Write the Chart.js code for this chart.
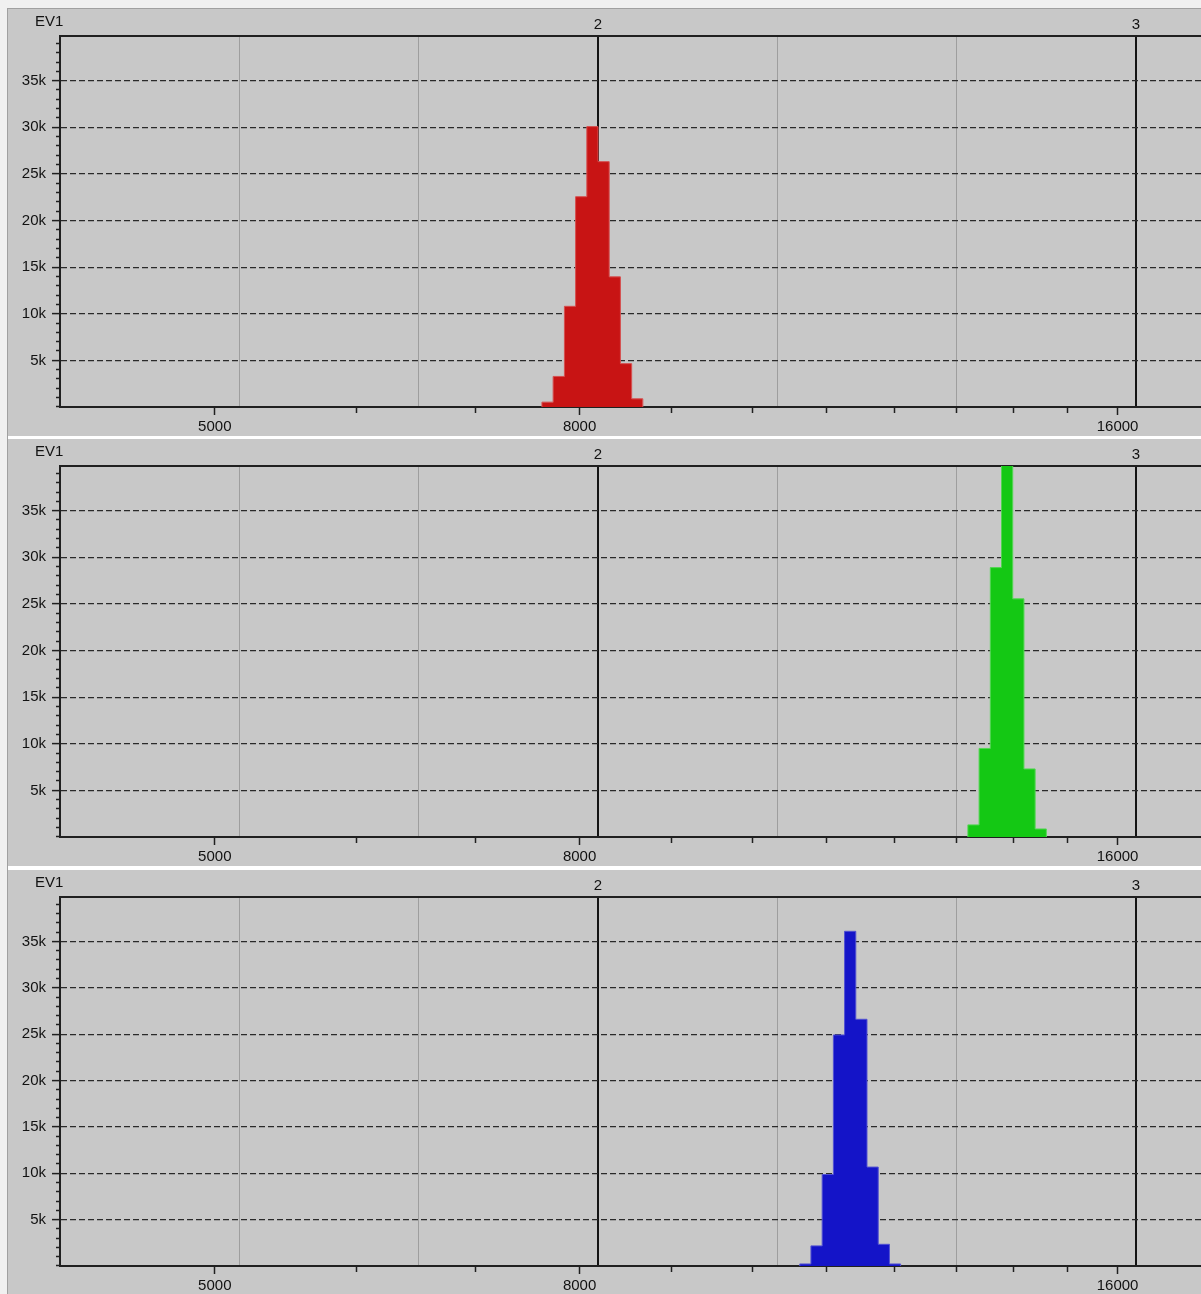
<!DOCTYPE html>
<html>
<head>
<meta charset="utf-8">
<title>EV1</title>
<script src="https://cdn.jsdelivr.net/npm/chart.js@4.4.1/dist/chart.umd.min.js"></script>
<style>
    html, body { margin: 0; padding: 0; background: #f0f0f0; }
    body { width: 1201px; height: 1294px; overflow: hidden; position: relative; }
    #frame {
        position: absolute; left: 7px; top: 8px; width: 1194px; height: 1286px;
        background: #ffffff; border-left: 1px solid #a0a0a0; border-top: 1px solid #a0a0a0;
    }
    .panel { position: absolute; left: 0; width: 1193px; background: #c8c8c8; }
</style>
</head>
<body>
<div id="frame">
    <div class="panel" style="top:0;height:427px"><canvas id="histRed"></canvas></div>
    <div class="panel" style="top:430px;height:427px"><canvas id="histGreen"></canvas></div>
    <div class="panel" style="top:861px;height:425px"><canvas id="histBlue"></canvas></div>
</div>
<script>
// axis text
const axisName = 'EV1';
const xTickValues = [5000, 6000, 7000, 8000, 9000, 10000, 11000, 12000, 13000, 14000, 15000, 16000];
const xLabelValues = [5000, 8000, 16000];
const topTickValues = [1, 4 / 3, 5 / 3, 2, 7 / 3, 8 / 3, 3];
const topTickLabels = ['', '', '', '2', '', '', '3'];
const yLabelValues = [5000, 10000, 15000, 20000, 25000, 30000, 35000];
const yTickLabels = ['5k', '10k', '15k', '20k', '25k', '30k', '35k'];

// histogram bins (edges) and counts
const redEdges = [7621, 7732, 7845, 7959, 8075, 8192, 8311, 8432, 8555, 8679];
const redCounts = [520, 3280, 10800, 22560, 30080, 26320, 13960, 4650, 880];

const greenEdges = [13193, 13385, 13580, 13777, 13978, 14181, 14387, 14597];
const greenCounts = [1300, 9500, 28900, 43000, 25550, 7300, 860];

const blueEdges = [10624, 10778, 10935, 11094, 11255, 11419, 11585, 11754, 11925, 12098];
const blueCounts = [220, 2170, 9870, 24920, 36100, 26610, 10670, 2340, 220];

const fontFamily = '"Liberation Sans", Arial, sans-serif';
const textColor = '#111111';
const axisColor = '#202020';

Chart.defaults.font.family = fontFamily;
Chart.defaults.font.size = 15;
Chart.defaults.color = textColor;

const isWhole = (v) => Math.abs(v - Math.round(v)) < 1e-6;

const axisNamePlugin = {
    id: 'axisName',
    afterDraw(chart) {
        const ctx = chart.ctx;
        ctx.save();
        ctx.font = '15px ' + fontFamily;
        ctx.fillStyle = textColor;
        ctx.textBaseline = 'middle';
        ctx.textAlign = 'left';
        ctx.fillText(axisName, 27, 12.5);
        ctx.restore();
    }
};

const createHistograma = (canvasId, edges, counts, cor, borda) => {
    const pontos = [{ x: edges[0], y: 0 }];
    counts.forEach((c, i) => pontos.push({ x: edges[i], y: c }));
    pontos.push({ x: edges[edges.length - 1], y: 0 });

    const data = {
        datasets: [{
            data: pontos,
            stepped: 'before',
            fill: 'origin',
            backgroundColor: cor,
            borderColor: borda,
            borderWidth: 1,
            pointRadius: 0,
            tension: 0
        }]
    };

    const config = {
        type: 'line',
        data: data,
        plugins: [axisNamePlugin],
        options: {
            responsive: true,
            maintainAspectRatio: false,
            animation: false,
            events: [],
            layout: { padding: 0 },
            scales: {
                x: {
                    type: 'logarithmic',
                    position: 'bottom',
                    min: 4096,
                    max: 17815,
                    afterBuildTicks: (scale) => {
                        scale.ticks = xTickValues.map(v => ({ value: v }));
                    },
                    afterFit: (scale) => { scale.height = 29; },
                    grid: {
                        drawOnChartArea: false,
                        drawTicks: true,
                        tickLength: 8,
                        tickWidth: 1.5,
                        tickColor: axisColor,
                        tickBorderDash: (c) => (c.tick && xLabelValues.includes(c.tick.value)) ? [] : [5, 20]
                    },
                    border: { display: true, color: axisColor, width: 2 },
                    ticks: {
                        autoSkip: false,
                        maxRotation: 0,
                        minRotation: 0,
                        padding: 3,
                        color: textColor,
                        callback: (v) => xLabelValues.includes(v) ? String(v) : ''
                    }
                },
                x2: {
                    type: 'linear',
                    position: 'top',
                    min: 1,
                    max: 3.12082,
                    afterBuildTicks: (scale) => {
                        scale.ticks = topTickValues.map(v => ({ value: v }));
                    },
                    afterFit: (scale) => { scale.height = 27; },
                    grid: {
                        drawOnChartArea: true,
                        drawTicks: false,
                        color: (c) => (c.tick && isWhole(c.tick.value)) ? '#141414' : '#9e9e9e',
                        lineWidth: (c) => (c.tick && isWhole(c.tick.value)) ? 2 : 1
                    },
                    border: { display: true, color: axisColor, width: 2 },
                    ticks: {
                        autoSkip: false,
                        maxRotation: 0,
                        padding: 2,
                        color: textColor,
                        callback: (v, i) => topTickLabels[i]
                    }
                },
                y: {
                    type: 'linear',
                    min: 0,
                    max: 39800,
                    afterBuildTicks: (scale) => {
                        const ticks = [];
                        for (let v = 0; v <= 39000; v += 1000) ticks.push({ value: v });
                        scale.ticks = ticks;
                    },
                    afterFit: (scale) => { scale.width = 52; },
                    grid: {
                        drawOnChartArea: true,
                        drawTicks: true,
                        color: (c) => (c.tick && yLabelValues.includes(c.tick.value)) ? '#2a2a2a' : 'rgba(0,0,0,0)',
                        lineWidth: 1.2,
                        tickLength: 8,
                        tickWidth: 1.5,
                        tickColor: axisColor,
                        tickBorderDash: (c) => (c.tick && yLabelValues.includes(c.tick.value)) ? [] : [0, 4, 12, 0]
                    },
                    border: { display: true, color: axisColor, width: 2, dash: [6, 3] },
                    ticks: {
                        autoSkip: false,
                        padding: 6,
                        color: textColor,
                        callback: (v) => {
                            const i = yLabelValues.indexOf(v);
                            return i >= 0 ? yTickLabels[i] : '';
                        }
                    }
                }
            },
            plugins: {
                legend: { display: false },
                tooltip: { enabled: false },
                title: { display: false }
            }
        }
    };

    return new Chart(document.getElementById(canvasId), config);
};

createHistograma('histRed', redEdges, redCounts, '#c81414', '#d65050');
createHistograma('histGreen', greenEdges, greenCounts, '#14c814', '#52d652');
createHistograma('histBlue', blueEdges, blueCounts, '#1414c8', '#5252d2');
</script>
</body>
</html>
